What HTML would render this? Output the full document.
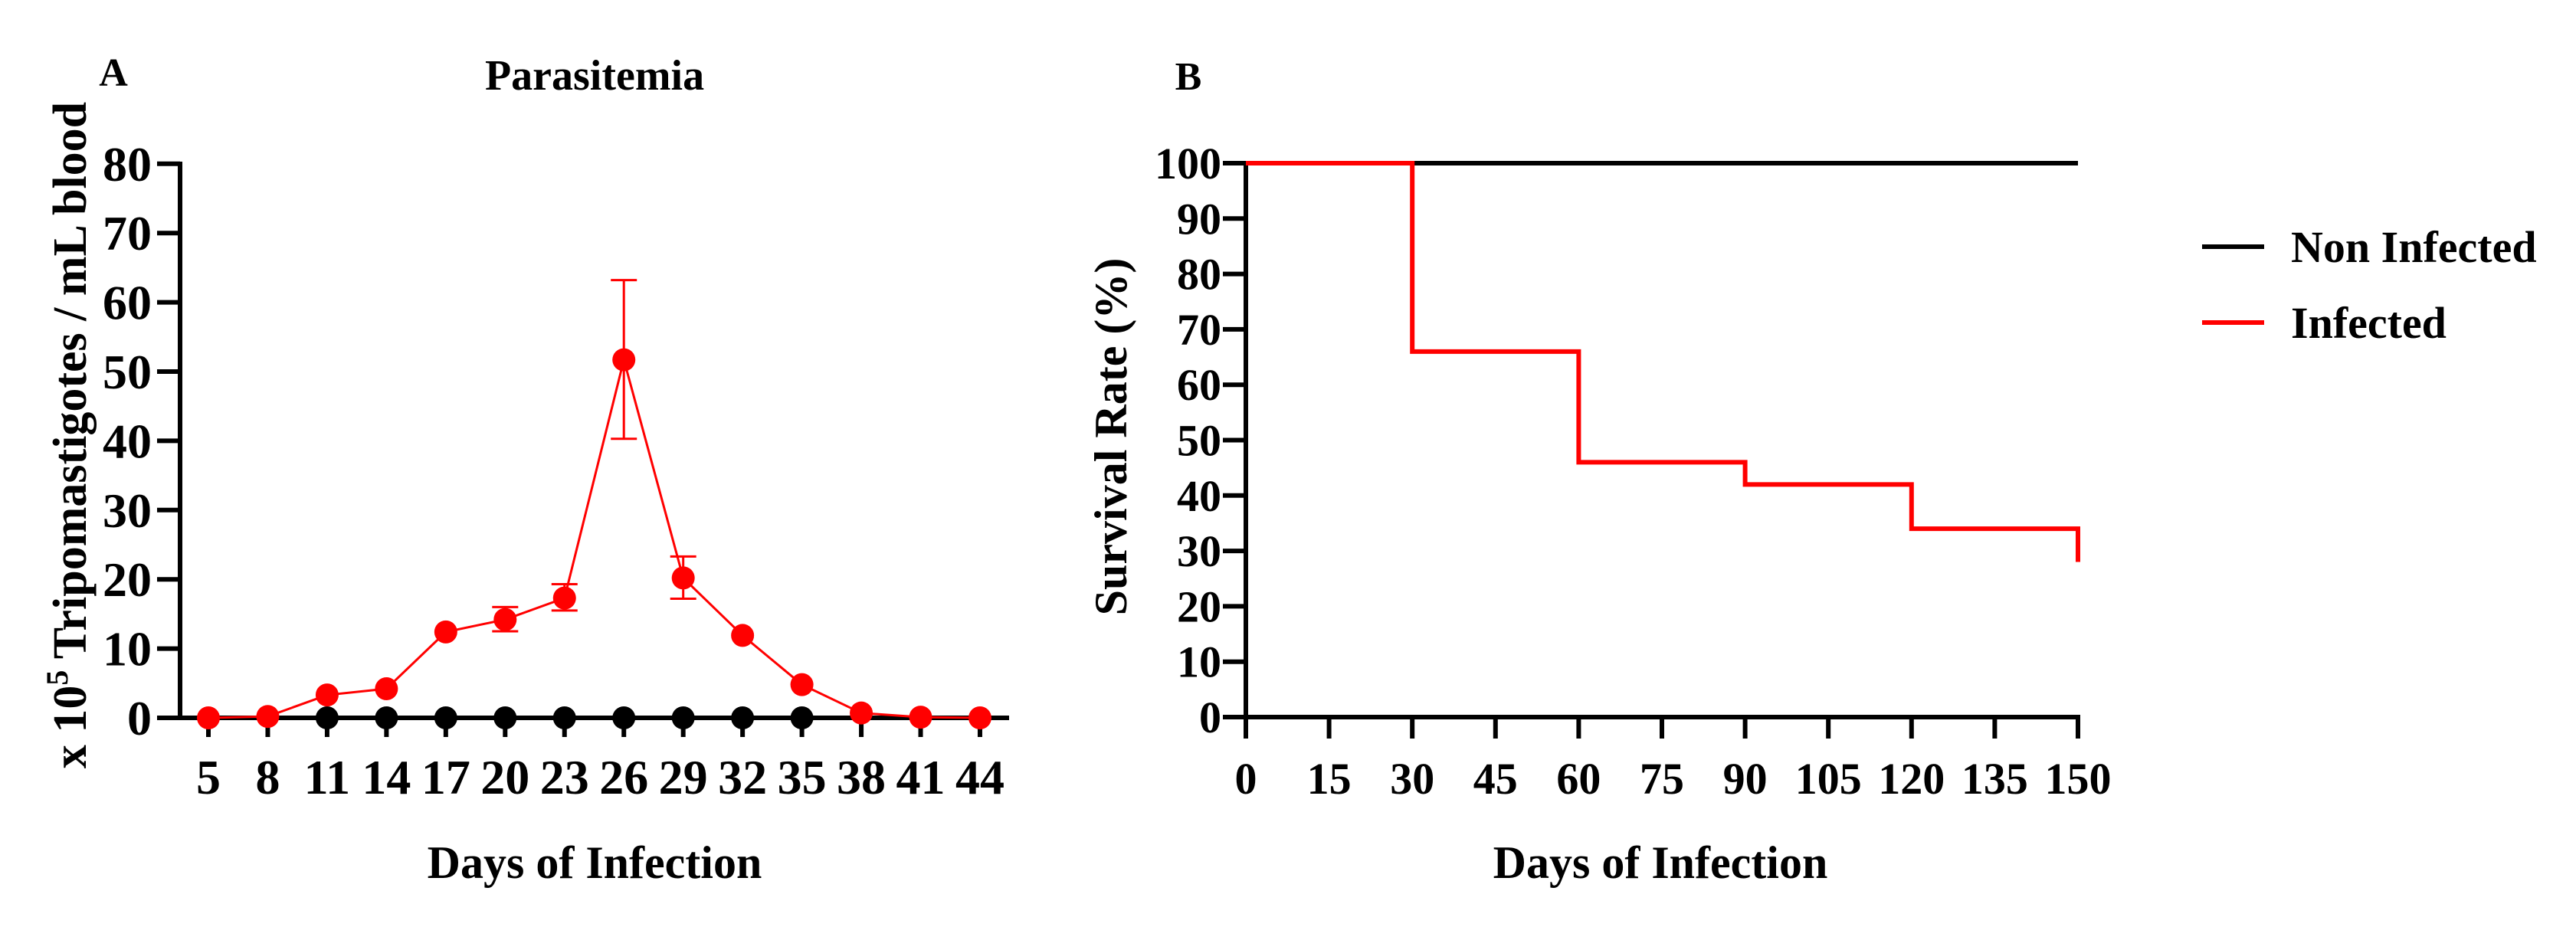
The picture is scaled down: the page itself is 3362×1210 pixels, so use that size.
<!DOCTYPE html>
<html><head><meta charset="utf-8"><style>
html,body{margin:0;padding:0;background:#fff;overflow:hidden}
svg text{font-family:"Liberation Serif",serif;font-weight:bold;fill:#000}
</style></head><body>
<svg width="3362" height="1205" viewBox="0 0 3362 1205" xmlns="http://www.w3.org/2000/svg">
<g id="A"></g>
<g id="B"></g>
</svg>
<script>
const daysA=[5,8,11,14,17,20,23,26,29,32,35,38,41,44];
const infectedA=[0,0.2,3.3,4.2,12.4,14.2,17.3,51.7,20.2,11.9,4.8,0.7,0.1,0];
const errLowA=[null,null,null,null,null,12.5,15.5,40.3,17.2,null,null,null,null,null];
const errHighA=[null,null,null,null,null,16,19.3,63.2,23.3,null,null,null,null,null];
const nonInfDaysA=[11,14,17,20,23,26,29,32,35];
const nonInfA=[0,0,0,0,0,0,0,0,0];
const yTicksA=[0,10,20,30,40,50,60,70,80];
const survDays=[0,30,30,60,60,90,90,120,120,150,150];
const survInf=[100,100,66,66,46,46,42,42,34,34,28];
const survNonDays=[0,150];
const survNon=[100,100];
const xTicksB=[0,15,30,45,60,75,90,105,120,135,150];
const yTicksB=[0,10,20,30,40,50,60,70,80,90,100];
const NS="http://www.w3.org/2000/svg";
function mk(p,t,a,txt){const e=document.createElementNS(NS,t);for(const k in a)e.setAttribute(k,a[k]);if(txt!=null)e.textContent=txt;p.appendChild(e);return e;}
// Panel A
const A=document.getElementById('A');
const xA=i=>272+i*77.46, yA=v=>937-v*9.04;
mk(A,'text',{x:148,y:112,'font-size':52,'text-anchor':'middle',},'A');
mk(A,'text',{x:776,y:117,'font-size':56,'text-anchor':'middle',},'Parasitemia');
let t=mk(A,'text',{x:0,y:0,'font-size':62,'text-anchor':'middle',transform:'translate(112,568) rotate(-90)',});
t.innerHTML='x 10<tspan dy="-24" font-size="40">5</tspan><tspan dy="24"> Tripomastigotes / mL blood</tspan>';
mk(A,'line',{x1:235,y1:211,x2:235,y2:940,stroke:'#000','stroke-width':6,});
mk(A,'line',{x1:205,y1:937,x2:1317,y2:937,stroke:'#000','stroke-width':6,});
yTicksA.forEach(v=>{
 mk(A,'line',{x1:205,y1:yA(v),x2:235,y2:yA(v),stroke:'#000','stroke-width':6,});
 mk(A,'text',{x:198,y:yA(v)+22,'font-size':64,'text-anchor':'end',},v);
});
daysA.forEach((d,i)=>{
 mk(A,'line',{x1:xA(i),y1:937,x2:xA(i),y2:962,stroke:'#000','stroke-width':6,});
 mk(A,'text',{x:xA(i),y:1036,'font-size':64,'text-anchor':'middle',},d);
});
mk(A,'text',{x:776,y:1146,'font-size':60,'text-anchor':'middle',},'Days of Infection');
nonInfDaysA.forEach((d,j)=>{const i=daysA.indexOf(d);
 const c=mk(A,'circle',{cx:xA(i),cy:yA(nonInfA[j]),r:15,fill:'#000'});
 
 
});
mk(A,'polyline',{points:daysA.map((d,i)=>xA(i)+','+yA(infectedA[i])).join(' '),fill:'none',stroke:'#f00','stroke-width':3,});
daysA.forEach((d,i)=>{
 if(errLowA[i]!=null){
  const g=mk(A,'g',{stroke:'#f00','stroke-width':3});
  
  
  mk(g,'line',{x1:xA(i),y1:yA(errLowA[i]),x2:xA(i),y2:yA(errHighA[i])});
  mk(g,'line',{x1:xA(i)-17,y1:yA(errLowA[i]),x2:xA(i)+17,y2:yA(errLowA[i])});
  mk(g,'line',{x1:xA(i)-17,y1:yA(errHighA[i]),x2:xA(i)+17,y2:yA(errHighA[i])});
 }
 const c=mk(A,'circle',{cx:xA(i),cy:yA(infectedA[i]),r:15,fill:'#f00'});
 
 
});
// Panel B
const B=document.getElementById('B');
const xB=v=>1626+v*(2712-1626)/150, yB=v=>936-v*7.23;
mk(B,'text',{x:1551,y:117,'font-size':52,'text-anchor':'middle',},'B');
mk(B,'text',{x:0,y:0,'font-size':60,'text-anchor':'middle',transform:'translate(1470,570) rotate(-90)',},'Survival Rate (%)');
mk(B,'line',{x1:1626,y1:210,x2:1626,y2:964,stroke:'#000','stroke-width':6,});
mk(B,'line',{x1:1596,y1:936,x2:2715,y2:936,stroke:'#000','stroke-width':6,});
yTicksB.forEach(v=>{
 mk(B,'line',{x1:1596,y1:yB(v),x2:1626,y2:yB(v),stroke:'#000','stroke-width':6,});
 mk(B,'text',{x:1594,y:yB(v)+20,'font-size':58,'text-anchor':'end',},v);
});
xTicksB.forEach(v=>{
 mk(B,'line',{x1:xB(v),y1:936,x2:xB(v),y2:964,stroke:'#000','stroke-width':6,});
 mk(B,'text',{x:xB(v),y:1036,'font-size':58,'text-anchor':'middle',},v);
});
mk(B,'text',{x:2167,y:1146,'font-size':60,'text-anchor':'middle',},'Days of Infection');
mk(B,'polyline',{points:survNonDays.map((d,i)=>xB(d)+','+yB(survNon[i])).join(' '),fill:'none',stroke:'#000','stroke-width':6,});
mk(B,'polyline',{points:survDays.map((d,i)=>xB(d)+','+yB(survInf[i])).join(' '),fill:'none',stroke:'#f00','stroke-width':6,});
mk(B,'line',{x1:2874,y1:322,x2:2955,y2:322,stroke:'#000','stroke-width':6,});
mk(B,'text',{x:2990,y:342,'font-size':58,},'Non Infected');
mk(B,'line',{x1:2874,y1:421,x2:2955,y2:421,stroke:'#f00','stroke-width':6,});
mk(B,'text',{x:2990,y:441,'font-size':58,},'Infected');
</script>
</body></html>
